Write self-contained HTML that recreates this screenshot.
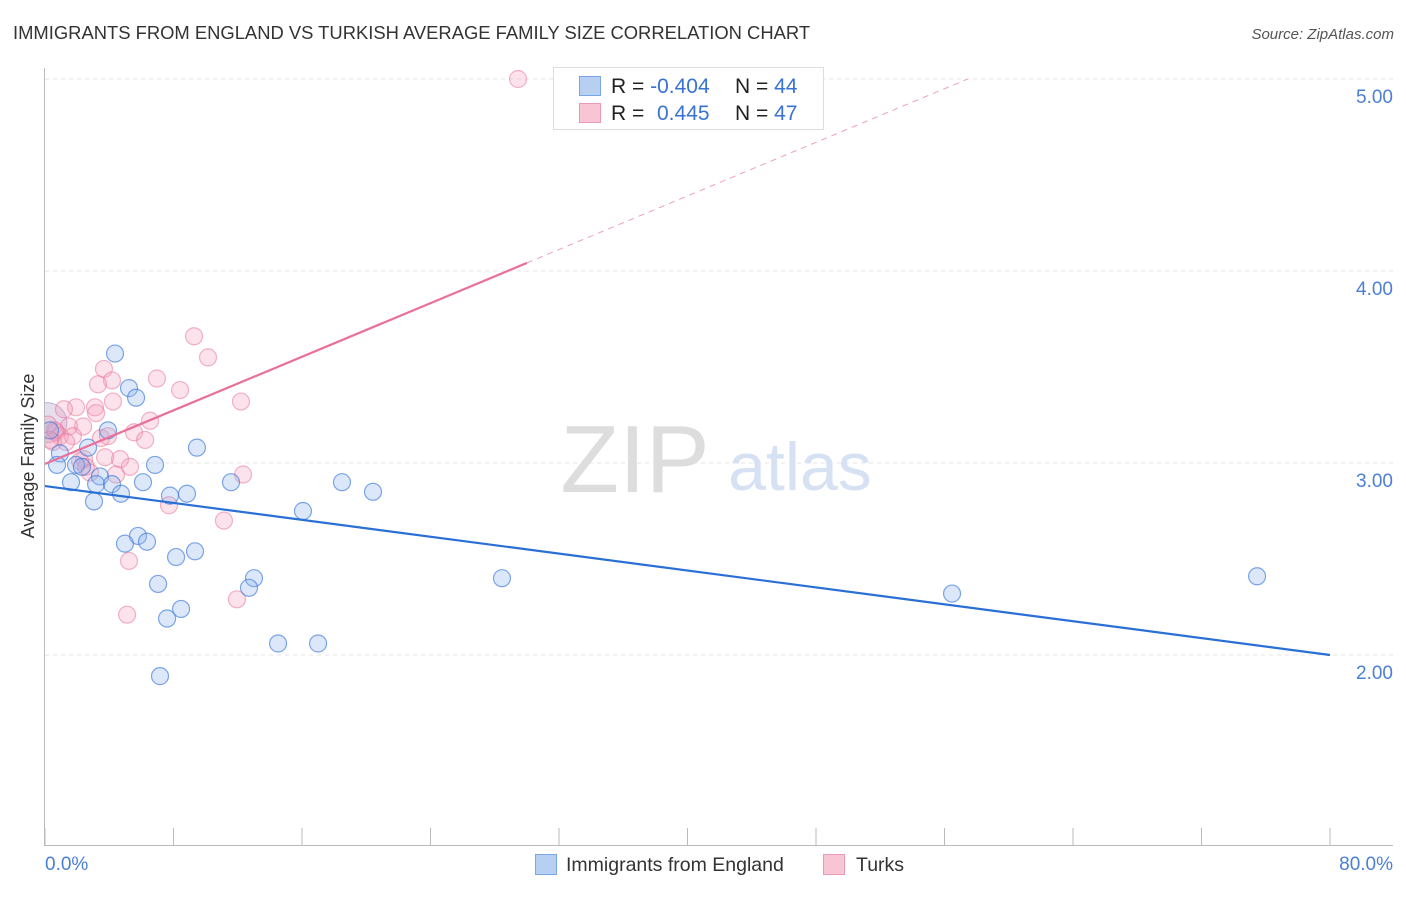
<!DOCTYPE html>
<html><head><meta charset="utf-8"><style>
body{margin:0;background:#fff;font-family:"Liberation Sans",sans-serif;}
svg text{font-family:"Liberation Sans",sans-serif;}
</style></head><body>
<svg id="chart" width="1406" height="892" xmlns="http://www.w3.org/2000/svg">
<defs><clipPath id="plotclip"><rect x="45" y="60" width="1360" height="785"/></clipPath></defs>
<text x="13" y="39" font-size="18.4" fill="#333">IMMIGRANTS FROM ENGLAND VS TURKISH AVERAGE FAMILY SIZE CORRELATION CHART</text>
<text x="1394" y="39" font-size="15" fill="#555" font-style="italic" text-anchor="end">Source: ZipAtlas.com</text>
<g id="grid"></g>
<g id="axes"></g>
<text x="635" y="492" font-size="96" fill="#ddd" font-family="Liberation Serif" text-anchor="middle">ZIP</text>
<text x="800" y="490" font-size="68" fill="#d6e2f4" text-anchor="middle">atlas</text>
<text transform="translate(34,456) rotate(-90)" font-size="18" fill="#333" text-anchor="middle">Average Family Size</text>
<g id="marks" clip-path="url(#plotclip)"></g>
<g>
<rect x="553.5" y="67.5" width="270" height="62" fill="#fff" stroke="#ddd"/>
<rect x="579.5" y="76.5" width="21" height="19" fill="#b7d0f2" stroke="#7aa6e6"/>
<rect x="579.5" y="103.5" width="21" height="19" fill="#f8c5d5" stroke="#eb9ab2"/>
<text x="611" y="93" font-size="21" fill="#222">R = <tspan fill="#3a72d4">-0.404</tspan></text>
<text x="735" y="93" font-size="21" fill="#222">N = <tspan fill="#3a72d4">44</tspan></text>
<text x="611" y="120" font-size="21" fill="#222">R = <tspan x="657" fill="#3a72d4">0.445</tspan></text>
<text x="735" y="120" font-size="21" fill="#222">N = <tspan fill="#3a72d4">47</tspan></text>
</g>
<g>
<rect x="535.5" y="854.5" width="21" height="20" fill="#b7d0f2" stroke="#7aa6e6"/>
<text x="566" y="871" font-size="19.5" fill="#333">Immigrants from England</text>
<rect x="823.5" y="854.5" width="21" height="20" fill="#f8c5d5" stroke="#eb9ab2"/>
<text x="856" y="871" font-size="19.5" fill="#333">Turks</text>
</g>
</svg>
<script>
const yTicks=[2,3,4,5];
const yTickLabels=["2.00","3.00","4.00","5.00"];
const xTickLabels=["0.0%","80.0%"];
const blueX=[4.36,5.23,5.67,3.92,2.68,0.93,0.75,1.93,2.30,3.42,1.62,3.18,4.17,4.73,3.05,6.10,6.85,9.46,7.78,8.84,11.58,16.06,18.49,20.42,5.79,4.98,6.35,9.34,8.16,7.04,8.47,7.60,13.01,12.70,14.51,17.00,7.16,28.45,56.47,75.46,0.31];
const blueY=[3.57,3.39,3.34,3.17,3.08,3.05,2.99,2.99,2.98,2.93,2.90,2.89,2.89,2.84,2.80,2.90,2.99,3.08,2.83,2.84,2.90,2.75,2.90,2.85,2.62,2.58,2.59,2.54,2.51,2.37,2.24,2.19,2.40,2.35,2.06,2.06,1.89,2.40,2.32,2.41,3.17];
const pinkX=[29.45,9.28,10.15,3.67,4.17,6.97,3.30,8.41,12.20,4.23,1.93,3.11,1.18,3.18,2.37,6.54,1.49,0.68,3.49,5.54,6.23,0.93,1.74,0.50,3.92,1.31,2.43,4.67,3.74,5.29,2.55,2.80,4.42,12.33,7.72,11.14,5.23,11.95,5.11,0.19,0.62,2.18,0.31];
const pinkY=[5.00,3.66,3.55,3.49,3.43,3.44,3.41,3.38,3.32,3.32,3.29,3.29,3.28,3.26,3.19,3.22,3.19,3.16,3.13,3.16,3.12,3.14,3.14,3.11,3.14,3.11,3.02,3.02,3.03,2.98,2.98,2.95,2.94,2.94,2.78,2.70,2.49,2.29,2.21,3.20,3.17,3.01,3.12];
const bigBlue=[0.12,3.21];
const blueTrend=[2.88,2.00];   // y at x=0 and x=80
const pinkTrend=[2.995,0.0349]; // intercept, slope
const NS="http://www.w3.org/2000/svg";
const X=v=>45+v/80*1285, Y=v=>79+(5-v)*192;
function mk(tag,attrs,parent){const e=document.createElementNS(NS,tag);for(const k in attrs)e.setAttribute(k,attrs[k]);parent.appendChild(e);return e;}
const grid=document.getElementById('grid'),axes=document.getElementById('axes'),marks=document.getElementById('marks');
yTicks.forEach((t,i)=>{
  const l=mk('line',{x1:45,x2:1393,y1:Y(t),y2:Y(t),stroke:'#e6e6e6','stroke-dasharray':'4,4'},grid);
  
  
  const tx=mk('text',{x:1393,y:Y(t)+24,'font-size':19,fill:'#4a7fd4','text-anchor':'end'},axes);
  tx.textContent=yTickLabels[i];
  
  
});
const la=mk('line',{x1:44.5,x2:44.5,y1:68,y2:845,stroke:'#bbb'},axes);


const ba=mk('line',{x1:44,x2:1393,y1:845.5,y2:845.5,stroke:'#bbb'},axes);


for(let i=0;i<=10;i++){
  const t=mk('line',{x1:X(i*8),x2:X(i*8),y1:828,y2:845,stroke:'#bbb'},axes);
  
  
}
const xl0=mk('text',{x:45,y:870,'font-size':19,fill:'#4a7fd4'},axes);xl0.textContent=xTickLabels[0];


const xl1=mk('text',{x:1393,y:870,'font-size':19,fill:'#4a7fd4','text-anchor':'end'},axes);xl1.textContent=xTickLabels[1];


const bb=mk('circle',{cx:X(bigBlue[0]),cy:Y(bigBlue[1]),r:20,fill:'rgba(180,160,200,0.35)',stroke:'rgba(150,140,200,0.6)'},marks);


pinkX.forEach((v,i)=>{const c=mk('circle',{cx:X(v),cy:Y(pinkY[i]),r:8.5,fill:'rgba(244,160,188,0.3)',stroke:'rgba(232,120,155,0.55)','stroke-width':1.2},marks);
  
  });
blueX.forEach((v,i)=>{const c=mk('circle',{cx:X(v),cy:Y(blueY[i]),r:8.5,fill:'rgba(140,180,235,0.3)',stroke:'rgba(60,120,220,0.65)','stroke-width':1.2},marks);
  
  });
const bt=mk('line',{x1:X(0),y1:Y(blueTrend[0]),x2:X(80),y2:Y(blueTrend[1]),stroke:'#2a6fd6','stroke-width':2.2},marks);


const pEnd=30,pDash=(5-pinkTrend[0])/pinkTrend[1];
const pt=mk('line',{x1:X(0),y1:Y(pinkTrend[0]),x2:X(pEnd),y2:Y(pinkTrend[0]+pinkTrend[1]*pEnd),stroke:'#e8709a','stroke-width':2.2},marks);


const pd=mk('line',{x1:X(pEnd),y1:Y(pinkTrend[0]+pinkTrend[1]*pEnd),x2:X(pDash),y2:Y(5),stroke:'#eea0b8','stroke-width':1,'stroke-dasharray':'6,5'},marks);


</script>
</body></html>
